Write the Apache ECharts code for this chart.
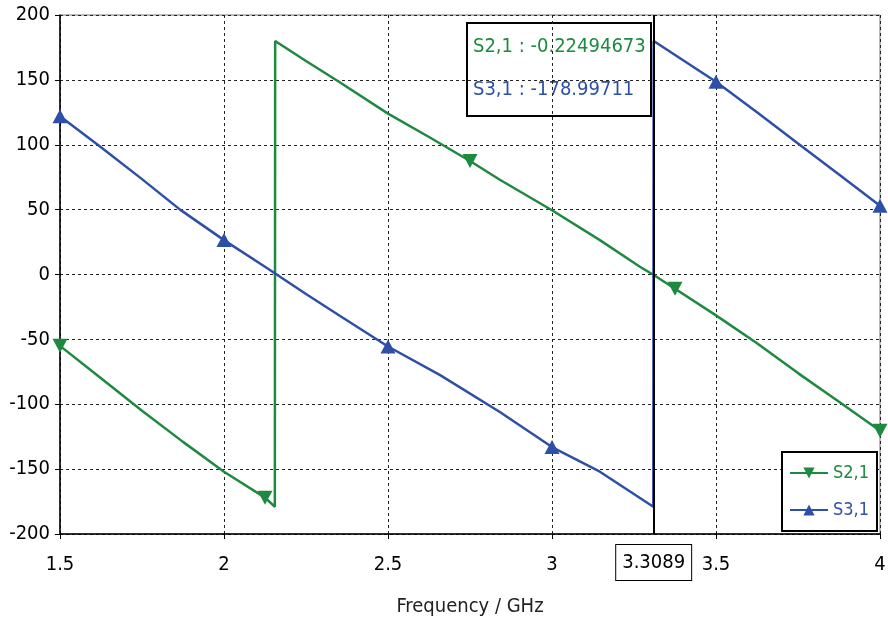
<!DOCTYPE html>
<html>
<head>
<meta charset="utf-8">
<script src="https://cdn.jsdelivr.net/npm/echarts@6/dist/echarts.min.js"></script>
<style>
html,body{margin:0;padding:0;background:#fff;overflow:hidden;}
#chart{width:888px;height:625px;}
</style>
</head>
<body>
<div id="chart"></div>
<script>
// ---- data ----
const freqS21 = [1.5,1.625,1.75,1.875,2.0,2.125,2.155,2.156,2.25,2.354,2.5,2.625,2.75,2.841,3.0,3.146,3.268,3.3089,3.375,3.5,3.625,3.75,3.875,4.0];
const phaseS21 = [-55,-80,-105,-129,-152,-172,-179,180,164.5,148,124,106,87.5,73,49.5,26.5,6,-0.22,-11,-31.5,-53,-76,-98,-120.5];
const markersS21 = [1.5,2.125,2.75,3.375,4.0];

const freqS31 = [1.5,1.625,1.75,1.866,2.0,2.125,2.25,2.354,2.5,2.659,2.841,3.0,3.146,3.3089,3.31,3.5,3.625,3.75,3.875,4.0];
const phaseS31 = [122,98,73.5,50,26.5,6,-15,-32,-55.5,-77.6,-106,-133,-152,-179,180,148.5,125,101,77,53];
const markersS31 = [1.5,2.0,2.5,3.0,3.5,4.0];

const seriesNames = ['S2,1','S3,1'];
const cursorFreq = 3.3089;
const cursorLabel = '3.3089';
const readoutTexts = ['S2,1 : -0.22494673','S3,1 : -178.99711'];
const xAxisName = 'Frequency / GHz';

// ---- styling ----
const GREEN = '#1d8a3f';
const BLUE = '#2d4fa7';
const FONT = "'DejaVu Sans Condensed','Liberation Sans Narrow','DejaVu Sans',sans-serif";

function buildData(freqs, vals, marks){
  return freqs.map((f,i)=>({value:[f, vals[i]], symbol: marks.indexOf(f) >= 0 ? 'triangle' : 'none'}));
}

const chart = echarts.init(document.getElementById('chart'), null, {renderer:'canvas'});
chart.setOption({
  animation:false,
  backgroundColor:'#fff',
  grid:{left:60, right:8, top:15, bottom:91, show:true, borderColor:'#777', borderWidth:1,
    containLabel:false, outerBoundsMode:'none'},
  xAxis:{
    type:'value', min:1.5, max:4, interval:0.5,
    name:xAxisName, nameLocation:'middle', nameGap:63,
    nameTextStyle:{fontFamily:FONT, fontSize:20, color:'#222'},
    axisLine:{show:true, onZero:false, lineStyle:{color:'#000', width:1.5}},
    axisTick:{show:true, length:5, lineStyle:{color:'#000'}},
    axisLabel:{fontFamily:FONT, fontSize:20, color:'#000', margin:21,
      formatter:v=>String(v)},
    splitLine:{show:true, lineStyle:{color:'#222', type:[3,3], width:1}}
  },
  yAxis:{
    type:'value', min:-200, max:200, interval:50,
    axisLine:{show:true, onZero:false, lineStyle:{color:'#000', width:1.5}},
    axisTick:{show:true, length:5, lineStyle:{color:'#000'}},
    axisLabel:{fontFamily:FONT, fontSize:20, color:'#000', margin:10},
    splitLine:{show:true, lineStyle:{color:'#222', type:[3,3], width:1}}
  },
  legend:{
    orient:'vertical', left:782, top:452,
    backgroundColor:'#fff', borderColor:'#000', borderWidth:2,
    padding:[12,8,12,7], itemWidth:38, itemHeight:14, itemGap:19,
    textStyle:{fontFamily:FONT, fontSize:18},
    data:[{name:seriesNames[0], textStyle:{color:GREEN}},{name:seriesNames[1], textStyle:{color:BLUE}}]
  },
  series:[
    {
      name:seriesNames[0], type:'line', data:buildData(freqS21, phaseS21, markersS21),
      symbol:'triangle', symbolRotate:180, symbolSize:[15,14], showAllSymbol:true,
      lineStyle:{color:GREEN, width:2.5}, itemStyle:{color:GREEN}, z:3
    },
    {
      name:seriesNames[1], type:'line', data:buildData(freqS31, phaseS31, markersS31),
      symbol:'triangle', symbolSize:[15,14], showAllSymbol:true,
      lineStyle:{color:BLUE, width:2.5}, itemStyle:{color:BLUE}, z:4,
      markLine:{
        silent:true, symbol:['none','none'], animation:false,
        lineStyle:{color:'#000', width:2, type:'solid'},
        label:{show:true, position:'start', formatter:cursorLabel, fontFamily:FONT, fontSize:20, color:'#000',
          backgroundColor:'#fff', borderColor:'#000', borderWidth:1, padding:[8,6,7,6], distance:11},
        data:[{xAxis:cursorFreq}]
      }
    }
  ],
  graphic:[
    {type:'group', left:466, top:22, z:100, children:[
      {type:'rect', shape:{x:0,y:0,width:184,height:93}, style:{fill:'#fff', stroke:'#000', lineWidth:2}},
      {type:'text', x:6, y:24, style:{text:readoutTexts[0], fill:GREEN, font:'20px '+FONT, verticalAlign:'middle'}},
      {type:'text', x:6, y:67, style:{text:readoutTexts[1], fill:BLUE, font:'20px '+FONT, verticalAlign:'middle'}}
    ]}
  ]
});
</script>
</body>
</html>
